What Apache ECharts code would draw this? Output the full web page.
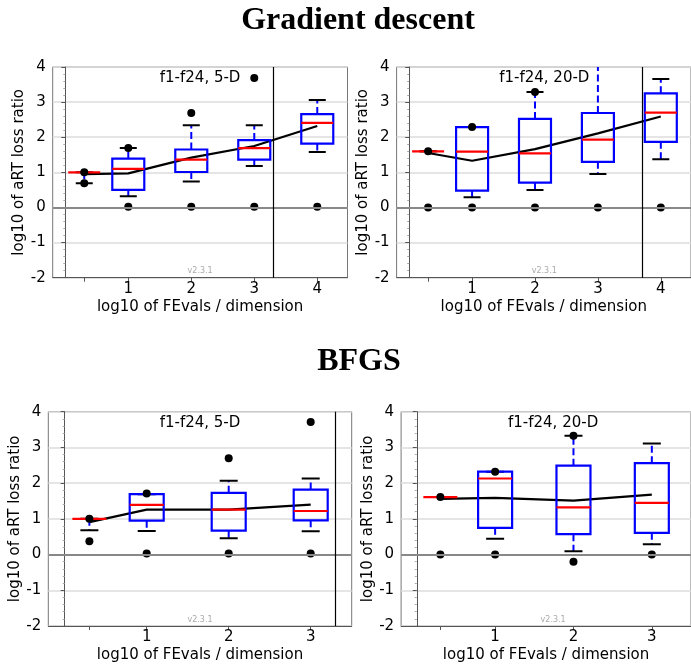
<!DOCTYPE html>
<html>
<head>
<meta charset="utf-8">
<script src="https://cdn.jsdelivr.net/npm/echarts@6/dist/echarts.min.js"></script>
<style>
  html, body { margin: 0; padding: 0; background: #fff; }
  #chart { width: 691px; height: 664px; }
</style>
</head>
<body>
<div id="chart"></div>
<script>
// Budget positions, log10 of FEvals / dimension
const topPositions = [0.301, 1, 2, 3, 4];
const bottomPositions = [0.301, 1, 2, 3];
const topTickValues = [0.301, 1, 2, 3, 4];
const topLabelValues = [1, 2, 3, 4];
const bottomTickValues = [0.301, 1, 2, 3];
const bottomLabelValues = [1, 2, 3];

// Box statistics per position: [lower whisker, q1, median, q3, upper whisker]
const gd5Stats = [
  [0.69, 1.00, 1.00, 1.00, 1.00],
  [0.32, 0.50, 1.10, 1.39, 1.69],
  [0.74, 1.01, 1.36, 1.65, 2.34],
  [1.18, 1.36, 1.69, 1.92, 2.34],
  [1.58, 1.82, 2.41, 2.66, 3.06]
];
const gd5Mean = [0.95, 0.97, 1.42, 1.75, 2.32];
const gd5Fliers = [[0.301, 1.0], [0.301, 0.69], [1, 1.69], [1, 0.02], [2, 2.69], [2, 0.02], [3, 0.02], [3, 3.69], [4, 0.02]];
const gd5Budget = 3.301;

const gd20Stats = [
  [1.60, 1.60, 1.60, 1.60, 1.60],
  [0.29, 0.48, 1.59, 2.29, 2.29],
  [0.50, 0.71, 1.54, 2.52, 3.29],
  [0.95, 1.30, 1.93, 2.69, 4.40],
  [1.37, 1.87, 2.70, 3.25, 3.66]
];
const gd20Mean = [1.55, 1.33, 1.66, 2.11, 2.59];
const gd20Fliers = [[0.301, 1.6], [0.301, 0], [1, 2.29], [1, 0], [2, 3.29], [2, 0], [3, 0], [4, 0]];
const gd20Budget = 3.699;

const bfgs5Stats = [
  [0.68, 1.00, 1.00, 1.00, 1.00],
  [0.66, 0.95, 1.39, 1.69, 1.69],
  [0.46, 0.67, 1.26, 1.73, 2.07],
  [0.65, 0.96, 1.22, 1.82, 2.13]
];
const bfgs5Mean = [0.91, 1.26, 1.26, 1.40];
const bfgs5Fliers = [[0.301, 1.0], [0.301, 0.37], [1, 1.71], [1, 0.03], [2, 2.70], [2, 0.03], [3, 3.71], [3, 0.03]];
const bfgs5Budget = 3.301;

const bfgs20Stats = [
  [1.61, 1.61, 1.61, 1.61, 1.61],
  [0.44, 0.75, 2.13, 2.32, 2.32],
  [0.09, 0.57, 1.32, 2.49, 3.33],
  [0.29, 0.61, 1.45, 2.56, 3.11]
];
const bfgs20Mean = [1.56, 1.59, 1.51, 1.68];
const bfgs20Fliers = [[0.301, 1.61], [0.301, 0], [1, 2.32], [1, 0], [2, 3.33], [2, -0.2], [3, 0]];
const bfgs20Budget = 3.699;

const yTicks = { min: -2, max: 4, interval: 1 };
const panelLabels = ['f1-f24, 5-D', 'f1-f24, 20-D', 'f1-f24, 5-D', 'f1-f24, 20-D'];
const sectionTitles = ['Gradient descent', 'BFGS'];
const versionText = 'v2.3.1';
const xName = 'log10 of FEvals / dimension';
const yName = 'log10 of aRT loss ratio';

const FONT = 'DejaVu Sans';

// Panel layout (pixels) and x ranges
const panels = [
  { grid: { left: 52.7, top: 67, width: 294.8, height: 210.7 }, xMin: -0.2, xMax: 4.48,
    positions: topPositions, stats: gd5Stats, mean: gd5Mean, fliers: gd5Fliers, budget: gd5Budget,
    ticks: topTickValues, labels: topLabelValues, boxW: 32, capW: 17 },
  { grid: { left: 396.6, top: 67, width: 295.4, height: 210.7 }, xMin: -0.2, xMax: 4.48,
    positions: topPositions, stats: gd20Stats, mean: gd20Mean, fliers: gd20Fliers, budget: gd20Budget,
    ticks: topTickValues, labels: topLabelValues, boxW: 32, capW: 17 },
  { grid: { left: 48.3, top: 411.7, width: 303.4, height: 215 }, xMin: -0.2, xMax: 3.5,
    positions: bottomPositions, stats: bfgs5Stats, mean: bfgs5Mean, fliers: bfgs5Fliers, budget: bfgs5Budget,
    ticks: bottomTickValues, labels: bottomLabelValues, boxW: 34, capW: 18 },
  { grid: { left: 401.1, top: 411.7, width: 304, height: 215 }, xMin: -0.2, xMax: 3.5,
    positions: bottomPositions, stats: bfgs20Stats, mean: bfgs20Mean, fliers: bfgs20Fliers, budget: bfgs20Budget,
    ticks: bottomTickValues, labels: bottomLabelValues, boxW: 34, capW: 18 }
];

function makeBoxRenderer(boxW, capW) {
  return function (params, api) {
    const cs = params.coordSys;
    const yTop = cs.y, yBottom = cs.y + cs.height;
    const clampY = (y) => Math.max(yTop, Math.min(yBottom, y));
    const x = api.value(0);
    const lo = api.value(1), q1 = api.value(2), med = api.value(3), q3 = api.value(4), hi = api.value(5);
    const px = api.coord([x, med])[0];
    const yLoRaw = api.coord([x, lo])[1];
    const yHiRaw = api.coord([x, hi])[1];
    const yLo = clampY(yLoRaw), yHi = clampY(yHiRaw);
    const yQ1 = api.coord([x, q1])[1], yQ3 = api.coord([x, q3])[1], yMed = api.coord([x, med])[1];
    const blue = '#0000ff';
    const children = [];
    const dash = [7, 3.5];
    if (yHi < yQ3) {
      children.push({ type: 'line', shape: { x1: px, y1: yQ3, x2: px, y2: yHi },
        style: { stroke: blue, lineWidth: 2, lineDash: dash } });
    }
    if (yLo > yQ1) {
      children.push({ type: 'line', shape: { x1: px, y1: yQ1, x2: px, y2: yLo },
        style: { stroke: blue, lineWidth: 2, lineDash: dash } });
    }
    if (yHiRaw >= yTop) {
      children.push({ type: 'line', shape: { x1: px - capW / 2, y1: yHi, x2: px + capW / 2, y2: yHi },
        style: { stroke: '#000', lineWidth: 2 } });
    }
    if (yLoRaw <= yBottom) {
      children.push({ type: 'line', shape: { x1: px - capW / 2, y1: yLo, x2: px + capW / 2, y2: yLo },
        style: { stroke: '#000', lineWidth: 2 } });
    }
    if (yQ1 - yQ3 > 0.5) {
      children.push({ type: 'rect', shape: { x: px - boxW / 2, y: yQ3, width: boxW, height: yQ1 - yQ3 },
        style: { fill: 'none', stroke: blue, lineWidth: 2.2 } });
    }
    children.push({ type: 'line', shape: { x1: px - boxW / 2, y1: yMed, x2: px + boxW / 2, y2: yMed },
      style: { stroke: '#ff0000', lineWidth: 2.2 } });
    return { type: 'group', children };
  };
}

const grids = [], xAxes = [], yAxes = [], series = [], graphics = [];

panels.forEach((p, i) => {
  grids.push(Object.assign({ show: true, borderColor: '#777', borderWidth: 1, backgroundColor: 'transparent' }, p.grid));
  xAxes.push({
    type: 'value', gridIndex: i, min: p.xMin, max: p.xMax,
    name: xName, nameLocation: 'middle', nameGap: 22,
    nameTextStyle: { fontFamily: FONT, fontSize: 15, color: '#000' },
    axisLine: { show: true, onZero: false, lineStyle: { color: '#555', width: 1 } },
    axisTick: { show: true, length: 4, lineStyle: { color: '#555' }, customValues: p.ticks },
    axisLabel: { fontFamily: FONT, fontSize: 15, color: '#000', margin: 4, customValues: p.labels },
    splitLine: { show: false }
  });
  yAxes.push({
    type: 'value', gridIndex: i, min: yTicks.min, max: yTicks.max, interval: yTicks.interval,
    name: yName, nameLocation: 'middle', nameGap: 21,
    nameTextStyle: { fontFamily: FONT, fontSize: 15, color: '#000' },
    axisLine: { show: true, lineStyle: { color: '#555', width: 1 } },
    axisTick: { show: true, length: 4, lineStyle: { color: '#555' } },
    minorTick: { show: true, splitNumber: 5, length: 2, lineStyle: { color: '#aaa' } },
    axisLabel: { fontFamily: FONT, fontSize: 15, color: '#000', margin: 7 },
    splitLine: { show: true, lineStyle: { color: '#dcdcdc', width: 1.5 } }
  });

  const markData = [{ yAxis: 0, lineStyle: { color: '#888', width: 2, type: 'solid' } }];
  if (p.budget <= p.xMax) {
    markData.push({ xAxis: p.budget, lineStyle: { color: '#000', width: 1.2, type: 'solid' } });
  }

  series.push({
    type: 'line', xAxisIndex: i, yAxisIndex: i, z: 2,
    data: p.positions.map((x, k) => [x, p.mean[k]]),
    symbol: 'none', lineStyle: { color: '#000', width: 2.2 },
    markLine: { silent: true, symbol: 'none', label: { show: false }, animation: false, data: markData }
  });
  series.push({
    type: 'custom', xAxisIndex: i, yAxisIndex: i, z: 3, clip: true,
    renderItem: makeBoxRenderer(p.boxW, p.capW),
    data: p.positions.map((x, k) => [x].concat(p.stats[k])),
    encode: { x: 0, y: [1, 2, 3, 4, 5] }
  });
  series.push({
    type: 'scatter', xAxisIndex: i, yAxisIndex: i, z: 4,
    data: p.fliers, symbol: 'circle', symbolSize: 8,
    itemStyle: { color: '#000', opacity: 1 }
  });

  const cx = p.grid.left + p.grid.width / 2;
  graphics.push({
    type: 'text', x: cx, y: p.grid.top + 11,
    style: { text: panelLabels[i], font: '15px "DejaVu Sans"', fill: '#000', align: 'center', verticalAlign: 'middle' }
  });
  graphics.push({
    type: 'text', x: cx, y: p.grid.top + p.grid.height - 7,
    style: { text: versionText, font: '8px "DejaVu Sans"', fill: '#aaa', align: 'center', verticalAlign: 'middle' }
  });
});

graphics.push({
  type: 'text', x: 358, y: 21,
  style: { text: sectionTitles[0], font: 'bold 32px "Liberation Serif"', fill: '#000', align: 'center', verticalAlign: 'middle' }
});
graphics.push({
  type: 'text', x: 359, y: 362,
  style: { text: sectionTitles[1], font: 'bold 32px "Liberation Serif"', fill: '#000', align: 'center', verticalAlign: 'middle' }
});

const chart = echarts.init(document.getElementById('chart'), null, { renderer: 'canvas' });
chart.setOption({
  animation: false,
  backgroundColor: '#fff',
  grid: grids,
  xAxis: xAxes,
  yAxis: yAxes,
  series: series,
  graphic: graphics
});
</script>
</body>
</html>
